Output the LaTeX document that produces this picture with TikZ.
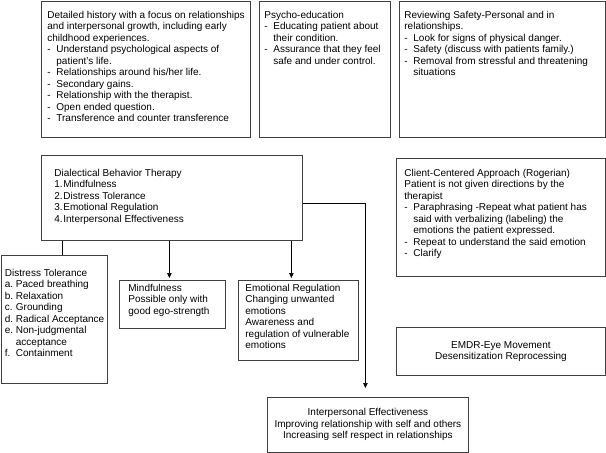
\documentclass[tikz,border=0pt]{standalone}
\usepackage{fontspec}
\setmainfont{Liberation Sans}
\usetikzlibrary{arrows.meta}

% text block of a box: width, height, lines
\newcommand{\boxtext}[3]{\begin{minipage}[t][#2][t]{#1}\begin{tabular}[t]{@{}l@{}}#3\end{tabular}\end{minipage}}
\newcommand{\dl}[1]{\makebox[9pt][l]{-}#1}
\newcommand{\cl}[1]{\hspace*{9pt}#1}

\tikzset{
  tbox/.style={draw=black!75,line width=0.8pt,anchor=north west,inner sep=0pt,
    font=\fontsize{10}{11.5}\selectfont},
  cbox/.style={tbox,align=center},
  flow/.style={draw=black,line width=0.7pt,-{Triangle[length=5pt,width=4.5pt]}},
}

\begin{document}
\begin{tikzpicture}[x=1pt,y=-1pt]
          \useasboundingbox (0,0) rectangle (606,453);
          % top row
          \node[tbox,inner xsep=6pt,inner ysep=9pt] (hist) at (41,1) {\boxtext{197pt}{118pt}{%
            Detailed history with a focus on relationships\\
            and interpersonal growth,  including early\\
            childhood experiences.\\
            \dl{Understand psychological aspects of}\\
            \cl{patient's life.}\\
            \dl{Relationships around his/her life.}\\
            \dl{Secondary gains.}\\
            \dl{Relationship with the therapist.}\\
            \dl{Open ended question.}\\
            \dl{Transference and counter transference}}};
          \node[tbox,inner xsep=5pt,inner ysep=9pt] (psy) at (259,1) {\boxtext{121pt}{118pt}{%
            Psycho-education\\
            \dl{Educating patient about}\\
            \cl{their condition.}\\
            \dl{Assurance that they feel}\\
            \cl{safe and under control.}}};
          \node[tbox,inner xsep=5pt,inner ysep=9pt] (safe) at (399,1) {\boxtext{196pt}{118pt}{%
            Reviewing Safety-Personal and in\\
            relationships.\\
            \dl{Look for signs of physical danger.}\\
            \dl{Safety (discuss with patients family.)}\\
            \dl{Removal from stressful and threatening}\\
            \cl{situations}}};
          % middle row
          \node[tbox,inner xsep=13pt,inner ysep=13pt] (dbt) at (41,155) {\boxtext{235pt}{59pt}{%
            Dialectical Behavior Therapy\\
            \makebox[9pt][l]{1.}Mindfulness\\
            \makebox[9pt][l]{2.}Distress Tolerance\\
            \makebox[9pt][l]{3.}Emotional Regulation\\
            \makebox[9pt][l]{4.}Interpersonal Effectiveness}};
          \node[tbox,inner xsep=8pt,inner ysep=10pt] (cca) at (396,158) {\boxtext{193pt}{98pt}{%
            Client-Centered Approach (Rogerian)\\
            Patient is not given directions by the\\
            therapist\\
            \dl{Paraphrasing -Repeat what patient has}\\
            \cl{said with verbalizing (labeling) the}\\
            \cl{emotions the patient expressed.}\\
            \dl{Repeat to understand the said emotion}\\
            \dl{Clarify}}};
          % lower row
          \node[tbox,inner xsep=3pt,inner ysep=13pt] (dt) at (1.5,255) {\boxtext{99.5pt}{102pt}{%
            Distress Tolerance\\
            \makebox[11pt][l]{a.}Paced breathing\\
            \makebox[11pt][l]{b.}Relaxation\\
            \makebox[11pt][l]{c.}Grounding\\
            \makebox[11pt][l]{d.}Radical Acceptance\\
            \makebox[11pt][l]{e.}Non-judgmental\\
            \hspace*{11pt}acceptance\\
            \makebox[11pt][l]{f.}Containment}};
          \node[tbox,inner xsep=9pt,inner ysep=3pt] (mind) at (119,280) {\boxtext{88pt}{42pt}{%
            Mindfulness\\
            Possible only with\\
            good ego-strength}};
          \node[tbox,inner xsep=7pt,inner ysep=3pt] (emo) at (238,280) {\boxtext{106pt}{74pt}{%
            Emotional Regulation\\
            Changing unwanted\\
            emotions\\
            Awareness and\\
            regulation of vulnerable\\
            emotions}};
          \node[cbox,minimum width=209pt,minimum height=48pt] (emdr) at (396,327)
            {EMDR-Eye Movement\\Desensitization Reprocessing};
          \node[cbox,minimum width=201pt,minimum height=55pt] (ie) at (267,397)
            {Interpersonal Effectiveness\\Improving relationship with self and others\\Increasing self respect in relationships};
          % connectors
          \draw[draw=black,line width=0.7pt] ([xshift=8pt]dt.north |- dbt.south) -- ([xshift=8pt]dt.north);
          \draw[flow] ([xshift=-3pt]mind.north |- dbt.south) -- ([xshift=-3pt,yshift=2pt]mind.north);
          \draw[flow] ([xshift=-7pt]emo.north |- dbt.south) -- ([xshift=-7pt,yshift=2pt]emo.north);
          \draw[flow] ([yshift=-5pt]dbt.east) -| ([xshift=-2.5pt,yshift=9pt]ie.north);
\end{tikzpicture}
\end{document}
